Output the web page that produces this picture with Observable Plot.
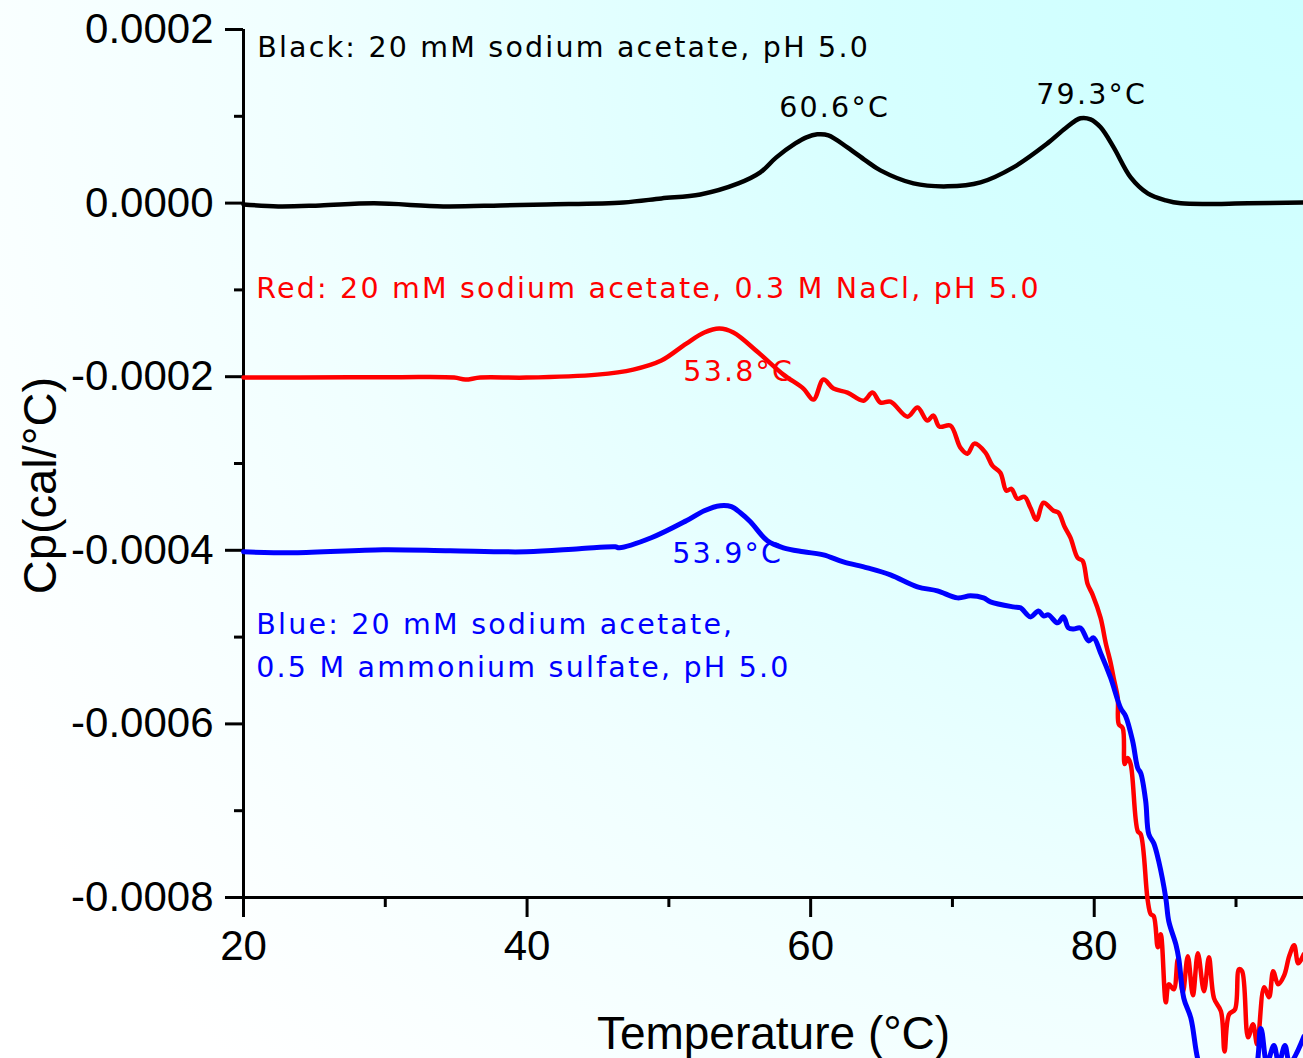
<!DOCTYPE html>
<html>
<head>
<meta charset="utf-8">
<script src="https://cdn.jsdelivr.net/npm/d3@7"></script>
<script src="https://cdn.jsdelivr.net/npm/@observablehq/plot@0.6"></script>
<style>
  html, body { margin: 0; padding: 0; }
  body { width: 1303px; height: 1058px; overflow: hidden; }
</style>
</head>
<body>
<div id="chart"></div>
<script>
// ---- Data (temperature in °C, Cp in cal/°C) ----
const blackT  = [20.0, 22.45, 25.41, 29.22, 34.09, 38.11, 41.36, 46.79, 49.47, 52.22, 54.90, 56.45, 57.58, 58.92, 59.70, 60.47, 61.25, 62.59, 63.86, 64.92, 67.25, 69.65, 71.98, 74.30, 76.70, 77.97, 79.03, 79.74, 80.45, 81.37, 82.57, 83.77, 85.05, 86.11, 90.84, 94.79];
const blackCp = [-0.015e-4, -0.038e-4, -0.027e-4, -0.003e-4, -0.038e-4, -0.027e-4, -0.015e-4, 0.008e-4, 0.054e-4, 0.100e-4, 0.227e-4, 0.354e-4, 0.527e-4, 0.688e-4, 0.758e-4, 0.792e-4, 0.781e-4, 0.642e-4, 0.493e-4, 0.377e-4, 0.227e-4, 0.193e-4, 0.239e-4, 0.412e-4, 0.688e-4, 0.862e-4, 0.977e-4, 0.965e-4, 0.873e-4, 0.642e-4, 0.296e-4, 0.112e-4, 0.031e-4, -0.003e-4, -0.003e-4, 0.008e-4];

const redT  = [20.0, 24.0, 31.04, 34.86, 35.64, 36.70, 39.94, 44.95, 47.49, 49.47, 51.23, 52.50, 53.56, 54.55, 56.31, 58.08, 59.49, 60.20, 60.90, 61.61, 62.60, 63.73, 64.36, 64.93, 65.63, 66.83, 67.54, 68.23, 68.66, 69.08, 69.86, 70.56, 71.06, 71.55, 72.33, 72.82, 73.38, 73.81, 74.16, 74.58, 75.08, 75.50, 75.93, 76.42, 77.13, 77.48, 77.91, 78.33, 78.83, 79.18, 79.53, 79.89, 80.45, 80.81, 81.16, 81.37, 81.66, 81.73, 82.01, 82.15, 82.36, 82.57, 83.07, 83.28, 83.77, 83.99, 84.20, 84.48, 84.69, 85.05, 85.26, 85.61, 85.90, 86.25, 86.60, 86.96, 87.31, 87.74, 88.09, 88.45, 88.94, 89.19, 89.51, 89.93, 90.21, 90.43, 90.85, 91.20, 91.49, 91.98, 92.33, 92.62, 92.97, 93.40, 93.75, 94.10, 94.39, 94.78];
const redCp = [-2.010e-4, -2.010e-4, -2.005e-4, -2.010e-4, -2.033e-4, -2.010e-4, -2.010e-4, -1.976e-4, -1.918e-4, -1.814e-4, -1.618e-4, -1.491e-4, -1.445e-4, -1.491e-4, -1.722e-4, -1.976e-4, -2.137e-4, -2.264e-4, -2.033e-4, -2.137e-4, -2.183e-4, -2.276e-4, -2.183e-4, -2.298e-4, -2.287e-4, -2.460e-4, -2.356e-4, -2.506e-4, -2.448e-4, -2.575e-4, -2.564e-4, -2.817e-4, -2.887e-4, -2.771e-4, -2.875e-4, -3.025e-4, -3.106e-4, -3.314e-4, -3.291e-4, -3.406e-4, -3.383e-4, -3.510e-4, -3.648e-4, -3.452e-4, -3.544e-4, -3.567e-4, -3.729e-4, -3.856e-4, -4.087e-4, -4.121e-4, -4.387e-4, -4.513e-4, -4.779e-4, -5.067e-4, -5.298e-4, -5.471e-4, -5.702e-4, -6.002e-4, -6.048e-4, -6.463e-4, -6.394e-4, -6.463e-4, -7.236e-4, -7.271e-4, -8.031e-4, -8.193e-4, -8.216e-4, -8.573e-4, -8.423e-4, -9.208e-4, -9.000e-4, -9.058e-4, -8.712e-4, -9.093e-4, -8.677e-4, -9.127e-4, -8.642e-4, -9.081e-4, -8.689e-4, -9.162e-4, -9.312e-4, -9.773e-4, -9.346e-4, -9.289e-4, -8.827e-4, -8.850e-4, -9.611e-4, -9.461e-4, -9.692e-4, -9.035e-4, -9.150e-4, -8.850e-4, -9.000e-4, -8.896e-4, -8.677e-4, -8.550e-4, -8.758e-4, -8.654e-4];

const blueT  = [20.0, 23.58, 29.85, 34.58, 39.94, 43.68, 46.22, 46.51, 48.76, 51.23, 52.50, 53.63, 54.41, 55.04, 55.75, 56.95, 58.08, 59.49, 60.90, 62.31, 64.00, 65.63, 67.53, 68.94, 70.35, 71.27, 72.19, 72.68, 74.30, 74.80, 75.50, 76.07, 76.42, 76.77, 77.41, 77.83, 78.18, 78.54, 79.03, 79.60, 79.95, 80.45, 81.16, 81.86, 82.21, 82.71, 83.07, 83.28, 83.63, 83.85, 84.20, 84.55, 85.05, 85.26, 85.76, 85.97, 86.32, 86.82, 87.31, 87.88, 91.05, 91.75, 92.18, 92.67, 93.02, 93.45, 93.80, 94.79];
const blueCp = [-4.017e-4, -4.029e-4, -3.994e-4, -4.006e-4, -4.017e-4, -3.983e-4, -3.960e-4, -3.971e-4, -3.856e-4, -3.660e-4, -3.544e-4, -3.487e-4, -3.498e-4, -3.567e-4, -3.671e-4, -3.890e-4, -3.971e-4, -4.017e-4, -4.052e-4, -4.133e-4, -4.202e-4, -4.283e-4, -4.421e-4, -4.467e-4, -4.548e-4, -4.525e-4, -4.548e-4, -4.594e-4, -4.652e-4, -4.663e-4, -4.767e-4, -4.698e-4, -4.756e-4, -4.744e-4, -4.836e-4, -4.767e-4, -4.894e-4, -4.906e-4, -4.894e-4, -5.044e-4, -5.009e-4, -5.182e-4, -5.471e-4, -5.817e-4, -5.909e-4, -6.198e-4, -6.509e-4, -6.567e-4, -6.890e-4, -7.271e-4, -7.375e-4, -7.583e-4, -8.009e-4, -8.275e-4, -8.541e-4, -8.712e-4, -9.162e-4, -9.392e-4, -9.865e-4, -10.119e-4, -10.119e-4, -9.508e-4, -9.911e-4, -9.704e-4, -9.911e-4, -9.704e-4, -9.911e-4, -9.600e-4];

const xMajorTicks = [20, 40, 60, 80];
const xMinorTicks = [30, 50, 70, 90];
const yMajorTicks = [-0.0008, -0.0006, -0.0004, -0.0002, 0, 0.0002];
const yMinorTicks = [-0.0007, -0.0005, -0.0003, -0.0001, 0.0001];

const noteTexts  = ["Black: 20 mM sodium acetate, pH 5.0", "60.6°C", "79.3°C",
                    "Red: 20 mM sodium acetate, 0.3 M NaCl, pH 5.0", "53.8°C",
                    "53.9°C", "Blue: 20 mM sodium acetate,", "0.5 M ammonium sulfate, pH 5.0"];
const noteT      = [20.97, 57.78, 75.91, 20.90, 51.02, 50.24, 20.90, 20.90];
const noteCp     = [1.680e-4, 0.988e-4, 1.138e-4, -1.099e-4, -2.045e-4, -4.144e-4, -4.963e-4, -5.459e-4];
const noteColors = ["black", "black", "black", "red", "red", "blue", "blue", "blue"];

const xTitle = "Temperature (°C)";
const yTitle = "Cp(cal/°C)";

// ---- Tables ----
const black = blackT.map((t, i) => ({t, cp: blackCp[i]}));
const red   = redT.map((t, i) => ({t, cp: redCp[i]}));
const blue  = blueT.map((t, i) => ({t, cp: blueCp[i]}));
const notes = noteTexts.map((text, i) => ({text, t: noteT[i], cp: noteCp[i], color: noteColors[i]}));

const fmt = d => d.toFixed(4);

const chart = Plot.plot({
  width: 1303,
  height: 1058,
  marginLeft: 243,
  marginRight: 0,
  marginTop: 29,
  marginBottom: 161,
  x: {domain: [20, 94.76], label: null},
  y: {domain: [-0.0008, 0.0002], label: null},
  style: {
    background: "radial-gradient(circle at 100% 0%, #ccffff 0%, #d6ffff 25%, #f0ffff 60%, #ffffff 90%)",
    fontFamily: "'Liberation Sans', Arial, sans-serif",
    overflow: "hidden"
  },
  marks: [
    Plot.axisX(xMajorTicks, {tickSize: 20, tickPadding: 13, fontSize: 42, strokeWidth: 3, stroke: "black", fill: "black", tickFormat: d => String(d), label: null}),
    Plot.axisX(xMinorTicks, {tickSize: 10, strokeWidth: 3, stroke: "black", tickFormat: () => "", label: null}),
    Plot.axisY(yMajorTicks, {tickSize: 18, tickPadding: 12, fontSize: 42, strokeWidth: 3, stroke: "black", fill: "black", tickFormat: fmt, label: null}),
    Plot.axisY(yMinorTicks, {tickSize: 9, strokeWidth: 3, stroke: "black", tickFormat: () => "", label: null}),
    Plot.ruleX([20], {stroke: "black", strokeWidth: 3}),
    Plot.ruleY([-0.0008], {stroke: "black", strokeWidth: 3}),
    Plot.line(black, {x: "t", y: "cp", stroke: "black", strokeWidth: 4.5, curve: "catmull-rom"}),
    Plot.line(red, {x: "t", y: "cp", stroke: "#ff0000", strokeWidth: 4.5, curve: "catmull-rom", strokeLinejoin: "round"}),
    Plot.line(blue, {x: "t", y: "cp", stroke: "#0000ff", strokeWidth: 5, curve: "catmull-rom", strokeLinejoin: "round"}),
    Plot.text(notes, {x: "t", y: "cp", text: "text", fill: "color", textAnchor: "start", lineAnchor: "bottom",
                      fontSize: 28.5, fontFamily: "'DejaVu Sans', sans-serif"}),
    Plot.text([xTitle], {frameAnchor: "bottom", dy: 151, lineAnchor: "bottom", fontSize: 46, fill: "black"}),
    Plot.text([yTitle], {frameAnchor: "left", textAnchor: "middle", dx: -203, dy: 22, rotate: -90, fontSize: 47, fill: "black"})
  ]
});

document.getElementById("chart").appendChild(chart);
chart.querySelectorAll("text").forEach(t => {
  if (noteTexts.includes(t.textContent)) t.style.letterSpacing = "2.2px";
});
</script>
</body>
</html>
